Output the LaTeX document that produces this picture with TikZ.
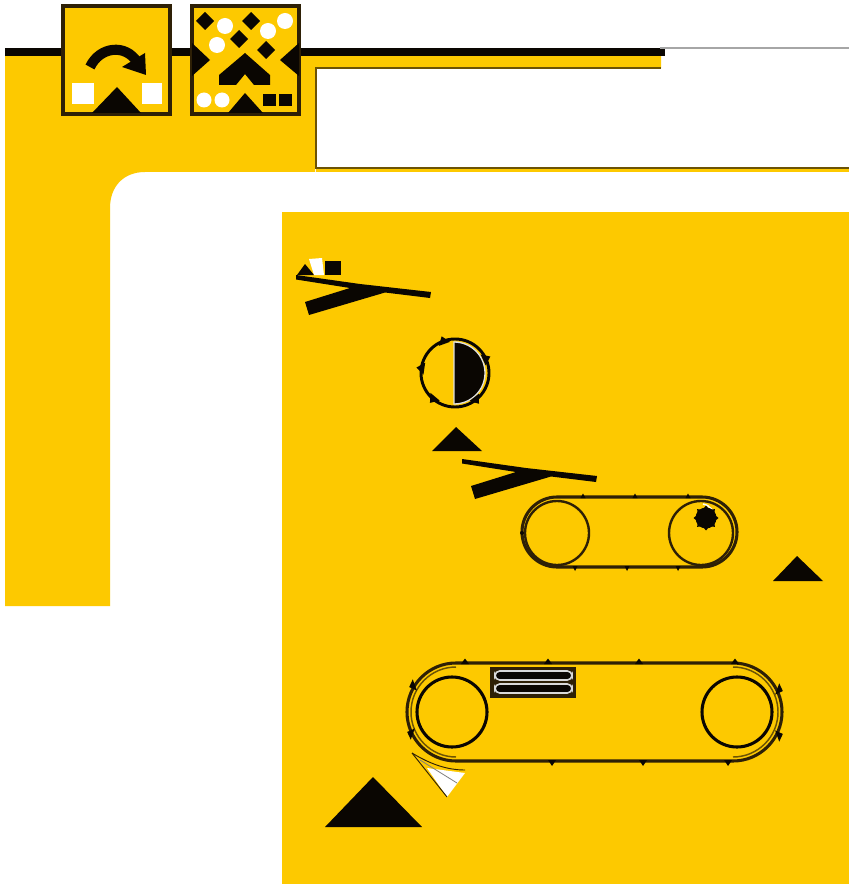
\documentclass[tikz,border=0pt]{standalone}
\definecolor{amber}{HTML}{FDC900}
\definecolor{ink}{HTML}{0A0602}
\definecolor{rim}{HTML}{2E2006}
\begin{document}
\begin{tikzpicture}[x=0.75pt,y=-0.75pt,line join=miter,
  solid/.style={fill=ink,draw=none},
  paper/.style={fill=white,draw=none},
  iconbox/.style={fill=amber,draw=rim,line width=2.6pt},
  beltline/.style={draw=rim,line width=2.3pt},
  stud/.style={fill=ink,draw=none}]
\useasboundingbox (0,0) rectangle (849,884);
\fill[white] (0,0) rectangle (849,884);
% frame
\fill[amber] (5,56) -- (661,56) -- (661,68) -- (315,68) -- (315,172) -- (145,172)
  .. controls (124,172) and (110,186) .. (110,208) -- (110,606) -- (5,606) -- cycle;
\fill[solid] (5,48.5) rectangle (665,56);
\fill[gray!70] (660,47.5) rectangle (849,49);
\draw[draw=rim!70!amber,line width=0.8pt] (661,68) -- (316,68) -- (316,168) -- (849,168);
\fill[amber] (316,169) rectangle (849,172);
% panel
\fill[amber] (282,212) rectangle (849,884);
% icon 1
\draw[iconbox] (63,6) rectangle (170,114);
\draw[ink,line width=7.6pt] (90,67) .. controls (100,46) and (126,44) .. (137,62);
\fill[solid] (122,67) -- (145,53) -- (146,75) -- cycle;
\fill[paper] (72,83) rectangle (94,104);
\fill[paper] (142,83) rectangle (162,104);
\fill[solid] (92,113) -- (117,87) -- (141,113) -- cycle;
% icon 2
\draw[iconbox] (192,6) rectangle (299,114);
\foreach \x/\y in {205/21,251/21,239/39,266/50}
  \fill[solid] (\x-9,\y) -- (\x,\y-9) -- (\x+9,\y) -- (\x,\y+9) -- cycle;
\foreach \x/\y in {225/26,268/31,285/21,217/45}
  \fill[paper] (\x,\y) circle[radius=8];
\fill[solid] (192,43) -- (210,60) -- (192,76) -- cycle;
\fill[solid] (299,43) -- (280,60) -- (299,76) -- cycle;
\fill[solid] (245,53) -- (270,75) -- (270,85) -- (254,85) -- (245,74) -- (236,85) -- (219,85) -- (219,75) -- cycle;
\fill[solid] (228,113) -- (245,93) -- (263,113) -- cycle;
\fill[paper] (204,100) circle[radius=7.5];
\fill[paper] (222,100) circle[radius=7.5];
\fill[solid] (263,94) rectangle (276,106);
\fill[solid] (279,94) rectangle (292,106);
% feeder 1 marks
\fill[solid] (297,275) -- (305,264) -- (314,275) -- cycle;
\fill[paper] (309,259) -- (322,258) -- (324,275) -- (314,275) -- cycle;
\fill[solid] (325,261) rectangle (341,275);
% chutes
\foreach \dx/\dy in {0/0,166/184}{
  \fill[solid,shift={(\dx,\dy)}] (296,275) -- (360,284) -- (431,292) -- (430,298) -- (385,292.5)
     -- (309,315) -- (305,302) -- (350,288) -- (296,279.5) -- cycle;
}
% drum
\fill[solid] (454,342) arc[start angle=-90,end angle=90,radius=31] -- cycle;
\draw[gray!25,line width=1pt] (454,342) arc[start angle=-90,end angle=90,radius=31] -- cycle;
\draw[ink,line width=2.2pt] (455,373) circle[radius=34];
\foreach \a in {-130,-52,25,110,172}{
  \fill[stud,shift={(455,373)},rotate=\a] (31,-6) -- (39,0) -- (31,6) -- cycle;}
% triangles
\fill[solid] (432,451) -- (456,427) -- (482,451) -- cycle;
\fill[solid] (773,581) -- (797,556) -- (823,581) -- cycle;
\fill[solid] (325,827) -- (373,777) -- (422,827) -- cycle;
% belt 1
\draw[beltline] (557,497) -- (702,497) arc[start angle=-90,end angle=90,radius=35] -- (557,567) arc[start angle=90,end angle=270,radius=35] -- cycle;
\draw[rim,line width=1.8pt] (557,533) circle[radius=32];
\draw[rim,line width=1.8pt] (701,533) circle[radius=32];
\draw[white,line width=1.1pt] (703,504) arc[start angle=-80,end angle=10,radius=14];
\fill[solid] (706,518) circle[radius=10.5];
\foreach \a in {0,45,...,315}{\fill[solid,shift={(706,518)},rotate=\a] (9.5,-2.5) -- (12.5,0) -- (9.5,2.5) -- cycle;}
\foreach \x in {583,635,688}{\fill[stud] (\x-2.5,498) -- (\x,493.5) -- (\x+2.5,498) -- cycle;}
\foreach \x in {575,627,678}{\fill[stud] (\x-2.5,566) -- (\x,571) -- (\x+2.5,566) -- cycle;}
\fill[stud] (522,533) circle[radius=2];
% belt 2
\draw[beltline] (456,663) -- (733,663) arc[start angle=-90,end angle=90,radius=49] -- (456,761) arc[start angle=90,end angle=270,radius=49] -- cycle;
\draw[rim!70!amber,line width=1.1pt] (456,667) arc[start angle=-90,end angle=-270,radius=45];
\draw[rim!70!amber,line width=1.1pt] (733,667) arc[start angle=-90,end angle=90,radius=45];
\draw[ink,line width=2.3pt] (452,712) circle[radius=35];
\draw[ink,line width=2.3pt] (737,712) circle[radius=35];
\foreach \x in {465,548,639,735}{\fill[stud] (\x-4,664) -- (\x,658.5) -- (\x+4,664) -- cycle;}
\foreach \x in {552,643,728}{\fill[stud] (\x-4,760) -- (\x,766) -- (\x+4,760) -- cycle;}
\foreach \x/\y/\a in {412/686/-160,410/733/160,780/690/-20,780/735/20}{
  \fill[stud,shift={(\x,\y)},rotate=\a] (-3,-6) -- (3,0) -- (-3,6) -- cycle;}
% slot box
\fill[rim] (490,667) rectangle (576,698);
\draw[white!85!black,fill=ink,line width=1.2pt,rounded corners=3.5pt] (495,671) rectangle (572,680);
\draw[white!85!black,fill=ink,line width=1.2pt,rounded corners=3.5pt] (495,684) rectangle (572,693);
% scraper
\fill[paper] (427,768) -- (465,773) -- (447,797) -- cycle;
\draw[rim,line width=0.7pt] (412,753) .. controls (430,764) and (447,770) .. (465,770);
\draw[rim,line width=0.7pt] (412,753) -- (447,797);
\draw[gray,line width=0.6pt] (420,760) -- (457,783);
\end{tikzpicture}
\end{document}
